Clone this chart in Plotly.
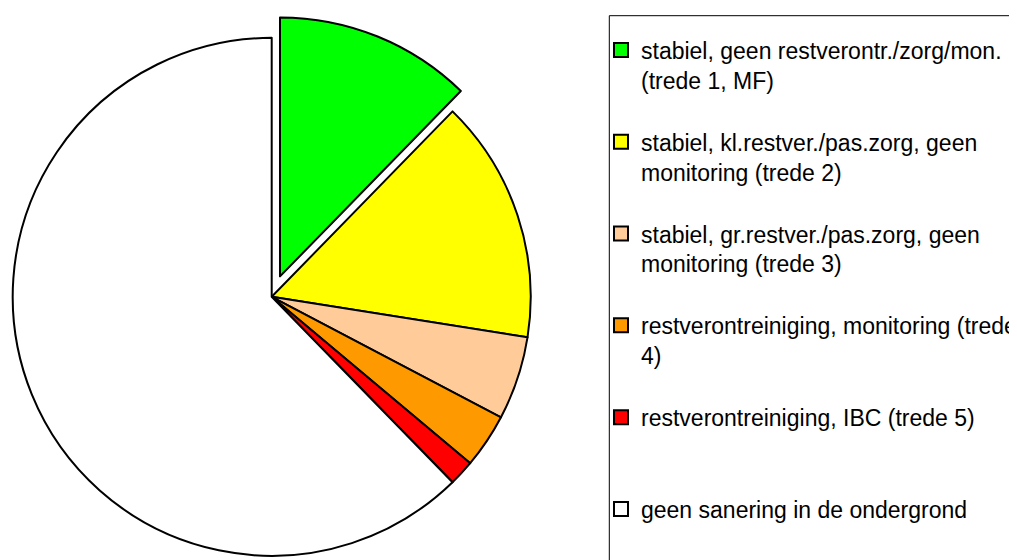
import math
import plotly.graph_objects as go

# ---- data ----
labels = [
    "stabiel, geen restverontr./zorg/mon. (trede 1, MF)",
    "stabiel, kl.restver./pas.zorg, geen monitoring (trede 2)",
    "stabiel, gr.restver./pas.zorg, geen monitoring (trede 3)",
    "restverontreiniging, monitoring (trede 4)",
    "restverontreiniging, IBC (trede 5)",
    "geen sanering in de ondergrond",
]
legend_text = [
    "stabiel, geen restverontr./zorg/mon.<br>(trede 1, MF)",
    "stabiel, kl.restver./pas.zorg, geen<br>monitoring (trede 2)",
    "stabiel, gr.restver./pas.zorg, geen<br>monitoring (trede 3)",
    "restverontreiniging, monitoring (trede<br>4)",
    "restverontreiniging, IBC (trede 5)<br> ",
    "geen sanering in de ondergrond<br> ",
]
values = [12.3, 15.2, 5.2, 3.4, 1.6, 62.3]
colors = ["#00FF00", "#FFFF00", "#FFCC99", "#FF9900", "#FF0000", "#FFFFFF"]
exploded = 0
pull_fraction = 0.085

# ---- geometry (pixels, window coords minus page body margin) ----
W, H = 1017, 560
OFF = 8  # default body margin of the html page
cx, cy, R = 271.7 - OFF, 296.8 - OFF, 259.0

def domain(cx_, cy_):
    return dict(x=[(cx_ - R) / W, (cx_ + R) / W],
                y=[1 - (cy_ + R) / H, 1 - (cy_ - R) / H])

total = sum(values)
start = sum(values[:exploded]) / total * 360
mid = math.radians(start + values[exploded] / total * 360 / 2)
d = pull_fraction * R
ecx, ecy = cx + d * math.sin(mid), cy - d * math.cos(mid)

TRANSP = "rgba(0,0,0,0)"
colA = [TRANSP if i == exploded else c for i, c in enumerate(colors)]
lwA = [0 if i == exploded else 2 for i in range(len(values))]
colB = [c if i == exploded else TRANSP for i, c in enumerate(colors)]
lwB = [2 if i == exploded else 0 for i in range(len(values))]

fig = go.Figure()
common = dict(labels=labels, values=values, sort=False, direction="clockwise",
              rotation=0, textinfo="none", hoverinfo="skip", showlegend=False)
fig.add_trace(go.Pie(domain=domain(cx, cy),
                     marker=dict(colors=colA, line=dict(color="black", width=lwA)),
                     **common))
fig.add_trace(go.Pie(domain=domain(ecx, ecy),
                     marker=dict(colors=colB, line=dict(color="black", width=lwB)),
                     **common))

for i, (t, c) in enumerate(zip(legend_text, colors)):
    fig.add_trace(go.Scatter(x=[None], y=[None], mode="markers", name=t,
                             legendgroup=f"g{i}",
                             marker=dict(symbol="square", size=14, color=c,
                                         line=dict(color="black", width=2))))

fig.add_shape(type="rect", xref="paper", yref="paper",
              x0=(609.3 - OFF) / W, x1=1.05, y0=1 - (15.7 - OFF) / H, y1=-0.05,
              line=dict(color="black", width=1), fillcolor="rgba(0,0,0,0)")

fig.update_layout(
    width=W, height=H,
    margin=dict(l=0, r=0, t=0, b=0),
    paper_bgcolor="white", plot_bgcolor="white",
    xaxis=dict(visible=False), yaxis=dict(visible=False),
    showlegend=True,
    legend=dict(x=(601 - OFF) / W, y=1 - (28.5 - OFF) / H, xanchor="left", yanchor="top",
                font=dict(family="Liberation Sans, Arial, sans-serif", size=23, color="black"),
                bgcolor="rgba(0,0,0,0)", borderwidth=0, valign="top",
                tracegroupgap=29, traceorder="grouped"),
)

fig.write_html("out.html", config={"displayModeBar": False})
